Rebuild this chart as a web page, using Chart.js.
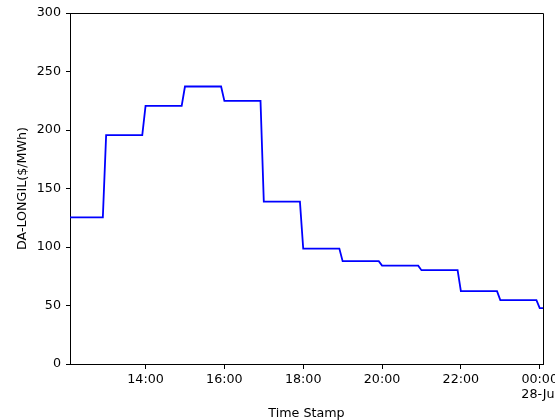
<!DOCTYPE html>
<html>
<head>
<meta charset="utf-8">
<script src="https://cdn.jsdelivr.net/npm/chart.js@4"></script>
<style>
  body { margin: 0; background: #fff; }
  #wrap { width: 555px; height: 420px; }
</style>
</head>
<body>
<div id="wrap"><canvas id="priceChart" width="555" height="420"></canvas></div>
<script>
// hourly day-ahead price, one value per hour starting 12:00 (27-Jul) to 00:00 (28-Jul)
const hourLabels   = ['12:00','13:00','14:00','15:00','16:00','17:00','18:00','19:00','20:00','21:00','22:00','23:00','00:00'];
const hourlyPrices = [125.4, 195.6, 220.6, 237.2, 224.9, 138.7, 98.6, 87.9, 84.1, 80.2, 62.3, 54.6, 47.8];

// series is sampled every 5 min, from 12:05 to 00:05 (minutes after 12:00)
const firstMinute = 5;
const lastMinute  = 725;
const stepMinutes = 5;

const xTickMinutes = [120, 240, 360, 480, 600, 720];
const xTickLabels  = ['14:00', '16:00', '18:00', '20:00', '22:00', ['00:00', '28-Jul']];
const yTicks       = [0, 50, 100, 150, 200, 250, 300];

const points = [];
for (let m = firstMinute; m <= lastMinute; m += stepMinutes) {
    points.push({ x: m, y: hourlyPrices[Math.floor(m / 60)] });
}

const font = { family: 'DejaVu Sans', size: 12.7 };

// draw the top and right spines like matplotlib
const frame = {
    id: 'frame',
    afterDraw(chart) {
        const { ctx, chartArea: a } = chart;
        ctx.save();
        ctx.strokeStyle = '#000';
        ctx.lineWidth = 1;
        ctx.beginPath();
        ctx.moveTo(a.left, a.top + 0.5);
        ctx.lineTo(a.right + 0.5, a.top + 0.5);
        ctx.lineTo(a.right + 0.5, a.bottom);
        ctx.stroke();
        ctx.restore();
    }
};

new Chart(document.getElementById('priceChart'), {
    type: 'line',
    data: {
        datasets: [{
            data: points,
            borderColor: '#0000ff',
            borderWidth: 1.8,
            pointRadius: 0,
            fill: false,
            tension: 0
        }]
    },
    options: {
        responsive: false,
        animation: false,
        events: [],
        layout: {
            padding: { left: 6, right: 12, top: 13, bottom: 0 }
        },
        plugins: {
            legend: { display: false },
            tooltip: { enabled: false }
        },
        scales: {
            x: {
                type: 'linear',
                min: firstMinute,
                max: lastMinute,
                afterBuildTicks: (scale) => {
                    scale.ticks = xTickMinutes.map(v => ({ value: v }));
                },
                afterFit: (scale) => {
                    scale.height = 56;
                    scale.paddingLeft = 0;
                    scale.paddingRight = 0;
                },
                ticks: {
                    autoSkip: false,
                    maxRotation: 0,
                    padding: 3,
                    color: '#000',
                    font: font,
                    callback: (value) => xTickLabels[xTickMinutes.indexOf(value)]
                },
                grid: {
                    drawOnChartArea: false,
                    drawTicks: true,
                    tickLength: 5,
                    color: '#000'
                },
                border: { display: true, color: '#000', width: 1 },
                title: {
                    display: true,
                    text: 'Time Stamp',
                    color: '#000',
                    font: { family: 'DejaVu Sans', size: 12.7, lineHeight: 1 },
                    padding: { top: 0, bottom: 0 }
                }
            },
            y: {
                min: 0,
                max: 300,
                afterBuildTicks: (scale) => {
                    scale.ticks = yTicks.map(v => ({ value: v }));
                },
                afterFit: (scale) => {
                    scale.width = 64;
                    scale.paddingTop = 0;
                    scale.paddingBottom = 0;
                },
                ticks: {
                    padding: 5,
                    color: '#000',
                    font: font
                },
                grid: {
                    drawOnChartArea: false,
                    drawTicks: true,
                    tickLength: 4,
                    color: '#000'
                },
                border: { display: true, color: '#000', width: 1 },
                title: {
                    display: true,
                    text: 'DA-LONGIL($/MWh)',
                    color: '#000',
                    font: font,
                    padding: { top: 9, bottom: 0 }
                }
            }
        }
    },
    plugins: [frame]
});
</script>
</body>
</html>
